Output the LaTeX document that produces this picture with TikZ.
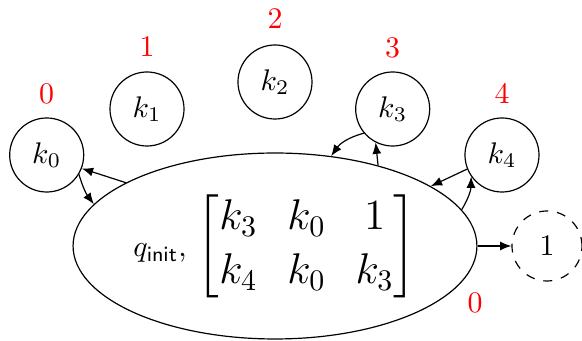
\documentclass[tikz,border=0pt]{standalone}
\usepackage{amsmath}
\usetikzlibrary{shapes.geometric,arrows.meta}
\begin{document}
\begin{tikzpicture}[x=0.335pt,y=-0.335pt,
  kstate/.style={circle,draw,inner sep=0pt,minimum size=24.8pt},
  fstate/.style={circle,draw,dashed,inner sep=0pt,minimum size=23.45pt},
  bigstate/.style={ellipse,draw,inner sep=0pt,minimum width=135.3pt,minimum height=62.3pt},
  lab/.style={text=red,inner sep=0pt},
  arr/.style={-{Latex[length=3.8pt,width=3pt]}}]
\useasboundingbox (0,0) rectangle (582,341);
\node[bigstate] (e) at (275,246) {$q_{\mathsf{init}}$, {\Large$\begin{bmatrix}k_3 & k_0 & 1\\ k_4 & k_0 & k_3\end{bmatrix}$}};
\node[kstate] (k0) at (46.7,155) {$k_0$};
\node[kstate] (k1) at (147,109) {$k_1$};
\node[kstate] (k2) at (275,82) {$k_2$};
\node[kstate] (k3) at (392.7,109) {$k_3$};
\node[kstate] (k4) at (502,155) {$k_4$};
\node[fstate] (f) at (547,246) {$1$};
\node[lab] (l0) at (46.7,94) {0};
\node[lab] (l1) at (147,47) {1};
\node[lab] (l2) at (275,19) {2};
\node[lab] (l3) at (392.7,47.5) {3};
\node[lab] (l4) at (502,93) {4};
\node[lab] (le) at (475,303) {0};
\draw[arr] (e.157.9) -- (k0.-21);
\draw[arr] (k0.-31) to[bend right=10] (e.167.6);
\draw[arr] (k3.-140) to[bend right=20] (e.58.9);
\draw[arr] (e.38.8) -- (k3.-117);
\draw[arr] (k4.-158) -- (e.21.8);
\draw[arr] (e.11.5) to[bend right=15] (k4.-145);
\draw[arr] (e.east) -- (f.west);
\end{tikzpicture}
\end{document}
